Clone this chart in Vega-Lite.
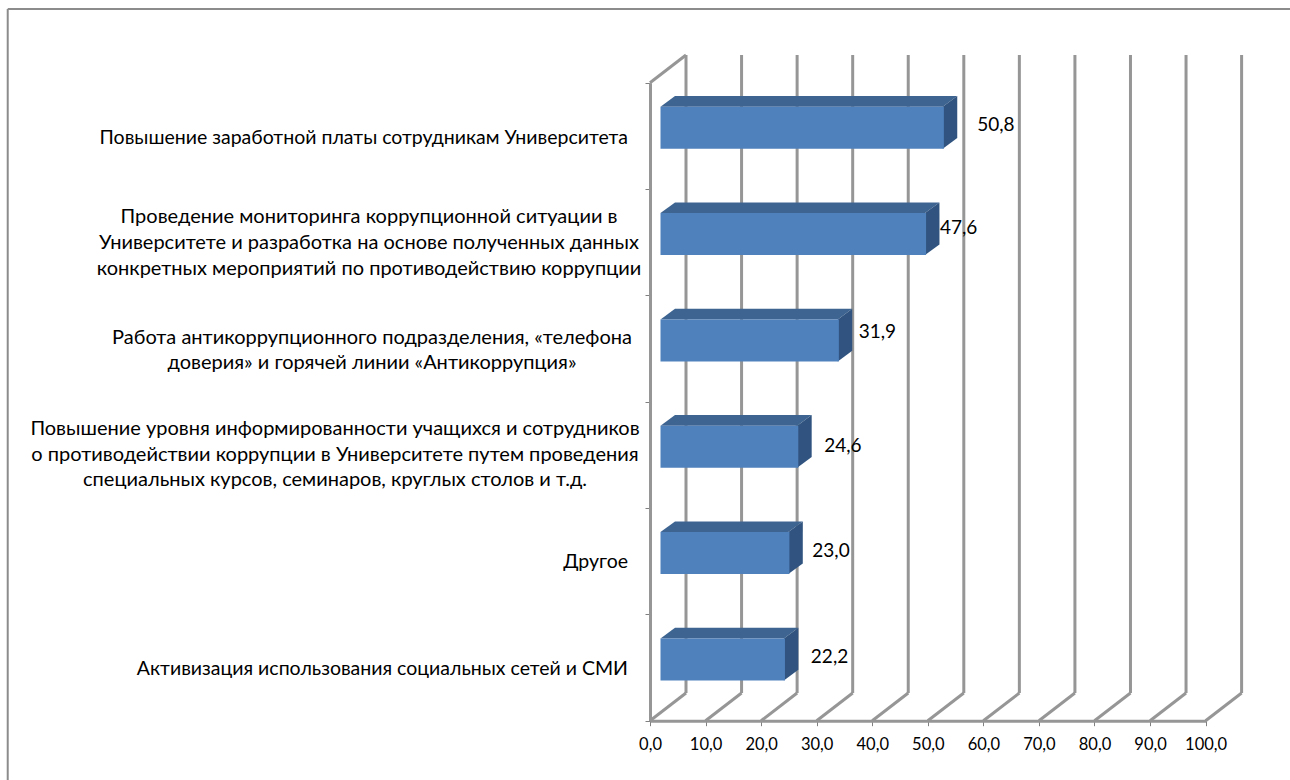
{
"$schema":"https://vega.github.io/schema/vega-lite/v6.json",
"width":1290,"height":780,"padding":0,"autosize":"none","background":"white",
"config":{"view":{"stroke":null}},
"datasets":{
"bars":[
{"category":"Повышение заработной платы сотрудникам Университета","rank":0,"value":50.8},
{"category":"Проведение мониторинга коррупционной ситуации в\nУниверситете и разработка на основе полученных данных\nконкретных мероприятий по противодействию коррупции","rank":1,"value":47.6},
{"category":"Работа антикоррупционного подразделения, «телефона\nдоверия» и горячей линии «Антикоррупция»","rank":2,"value":31.9},
{"category":"Повышение уровня информированности учащихся и сотрудников\nо противодействии коррупции в Университете путем проведения\nспециальных курсов, семинаров, круглых столов и т.д.","rank":3,"value":24.6},
{"category":"Другое","rank":4,"value":23.0},
{"category":"Активизация использования социальных сетей и СМИ","rank":5,"value":22.2}
],
"ticks":[{"tick":0},{"tick":10},{"tick":20},{"tick":30},{"tick":40},{"tick":50},{"tick":60},{"tick":70},{"tick":80},{"tick":90},{"tick":100}]
},
"layer":[
{"data":{"name":"ticks"},
 "transform":[{"calculate":"datum.tick+6.48","as":"bx"},{"calculate":"-0.26","as":"yt"},{"calculate":"5.74","as":"yb"}],
 "mark":{"type":"rule","color":"#969696","strokeWidth":3},
 "encoding":{
  "x":{"field":"bx","type":"quantitative","scale":{"domain":[0,100],"range":[650,1205.6],"nice":false,"zero":false},
   "axis":{"title":null,"values":[0,10,20,30,40,50,60,70,80,90,100],"grid":false,"offset":-59.3,"domainColor":"#969696","domainWidth":3,"tickColor":"#808080","tickSize":5,"tickWidth":1,"labelFont":"Lato","labelFontSize":16.5,"labelColor":"black","labelPadding":11,"labelExpr":"replace(format(datum.value,'.1f'),'.',',')","labelOverlap":false,"labelFlush":false}},
  "y":{"field":"yt","type":"quantitative","scale":{"domain":[0,6],"range":[82.7,720.7],"nice":false,"zero":false},
   "axis":{"title":null,"values":[0,1,2,3,4,5,6],"grid":false,"labels":false,"offset":-650,"domainColor":"#969696","domainWidth":3,"tickColor":"#808080","tickSize":5,"tickWidth":1}},
  "y2":{"field":"yb"}
 }},
{"data":{"name":"ticks"},
 "transform":[{"calculate":"datum.tick+6.48","as":"bx"},{"calculate":"6","as":"y0"},{"calculate":"5.74","as":"y1"}],
 "mark":{"type":"rule","color":"#969696","strokeWidth":3},
 "encoding":{"x":{"field":"tick","type":"quantitative"},"x2":{"field":"bx"},"y":{"field":"y0","type":"quantitative"},"y2":{"field":"y1"}}},
{"data":{"values":[{"tick":0}]},
 "transform":[{"calculate":"6.48","as":"bx"},{"calculate":"0","as":"y0"},{"calculate":"-0.26","as":"y1"}],
 "mark":{"type":"rule","color":"#969696","strokeWidth":3},
 "encoding":{"x":{"field":"tick","type":"quantitative"},"x2":{"field":"bx"},"y":{"field":"y0","type":"quantitative"},"y2":{"field":"y1"}}},
{"data":{"values":[{"a":-115.6,"b":116.2,"c":-0.693,"d":-0.693},{"a":-115.6,"b":-115.6,"c":-0.693,"d":6.56}]},
 "mark":{"type":"rule","color":"#8c8c8c","strokeWidth":2},
 "encoding":{"x":{"field":"a","type":"quantitative"},"x2":{"field":"b"},"y":{"field":"c","type":"quantitative"},"y2":{"field":"d"}}},
{"data":{"name":"bars"},
 "transform":[{"calculate":"0","as":"p0"},{"calculate":"1","as":"p1"},{"fold":["p0","p1"],"as":["key","k"]},
  {"calculate":"1.89+2.61*datum.k","as":"xa"},{"calculate":"datum.value+1.89+2.61*datum.k","as":"xb"},{"calculate":"datum.rank+0.226-0.1*datum.k","as":"ya"}],
 "mark":{"type":"area","orient":"horizontal","fill":"#3e6491","opacity":1},
 "encoding":{"y":{"field":"ya","type":"quantitative"},"x":{"field":"xa","type":"quantitative"},"x2":{"field":"xb"},"detail":{"field":"rank","type":"nominal"}}},
{"data":{"name":"bars"},
 "transform":[{"calculate":"0","as":"p0"},{"calculate":"1","as":"p1"},{"fold":["p0","p1"],"as":["key","k"]},
  {"calculate":"datum.value+1.89+2.61*datum.k","as":"xa"},{"calculate":"datum.rank+0.226-0.1*datum.k","as":"ya"},{"calculate":"datum.rank+0.621-0.1*datum.k","as":"yb"}],
 "mark":{"type":"area","orient":"vertical","fill":"#30547f","opacity":1},
 "encoding":{"x":{"field":"xa","type":"quantitative"},"y":{"field":"ya","type":"quantitative"},"y2":{"field":"yb"},"detail":{"field":"rank","type":"nominal"}}},
{"data":{"name":"bars"},
 "transform":[{"calculate":"1.89","as":"xa"},{"calculate":"datum.value+1.89+0.2","as":"xb"},{"calculate":"datum.rank+0.226","as":"ya"},{"calculate":"datum.rank+0.621","as":"yb"}],
 "mark":{"type":"rect","color":"#4f81bd"},
 "encoding":{"x":{"field":"xa","type":"quantitative"},"x2":{"field":"xb"},"y":{"field":"ya","type":"quantitative"},"y2":{"field":"yb"}}},
{"data":{"name":"bars"},
 "transform":[{"calculate":"datum.value+1.89","as":"xb"},{"calculate":"datum.rank+0.42","as":"ya"},{"calculate":"replace(format(datum.value,'.1f'),'.',',')","as":"lbl"}],
 "mark":{"type":"text","align":"left","baseline":"middle","font":"Lato","fontSize":19,"color":"black",
  "dx":{"expr":"[34.5,15,21,27,24,27][datum.rank]"},"dy":{"expr":"[-2,-6,-8,0,-2,-2][datum.rank]"}},
 "encoding":{"x":{"field":"xb","type":"quantitative"},"y":{"field":"ya","type":"quantitative"},"text":{"field":"lbl"}}},
{"data":{"name":"bars"},
 "transform":[{"filter":"datum.rank==0||datum.rank==4||datum.rank==5"},{"calculate":"0","as":"x0"},{"calculate":"datum.rank+0.5","as":"ya"}],
 "mark":{"type":"text","align":"right","baseline":"middle","font":"Lato","fontSize":19.5,"color":"black","dx":-22,"dy":{"expr":"datum.rank==0?2:1"}},
 "encoding":{"x":{"field":"x0","type":"quantitative"},"y":{"field":"ya","type":"quantitative"},"text":{"field":"category"}}},
{"data":{"name":"bars"},
 "transform":[{"filter":"datum.rank==1||datum.rank==2||datum.rank==3"},{"calculate":"0","as":"x0"},{"calculate":"datum.rank+0.5","as":"ya"}],
 "mark":{"type":"text","align":"center","baseline":"middle","font":"Lato","fontSize":20,"color":"black","lineBreak":"\n","lineHeight":25.8,
  "dx":{"expr":"[0,-281,-278,-315][datum.rank]"},"dy":{"expr":"[0,-25,-11,-26][datum.rank]"}},
 "encoding":{"x":{"field":"x0","type":"quantitative"},"y":{"field":"ya","type":"quantitative"},"text":{"field":"category"}}}
]
}
